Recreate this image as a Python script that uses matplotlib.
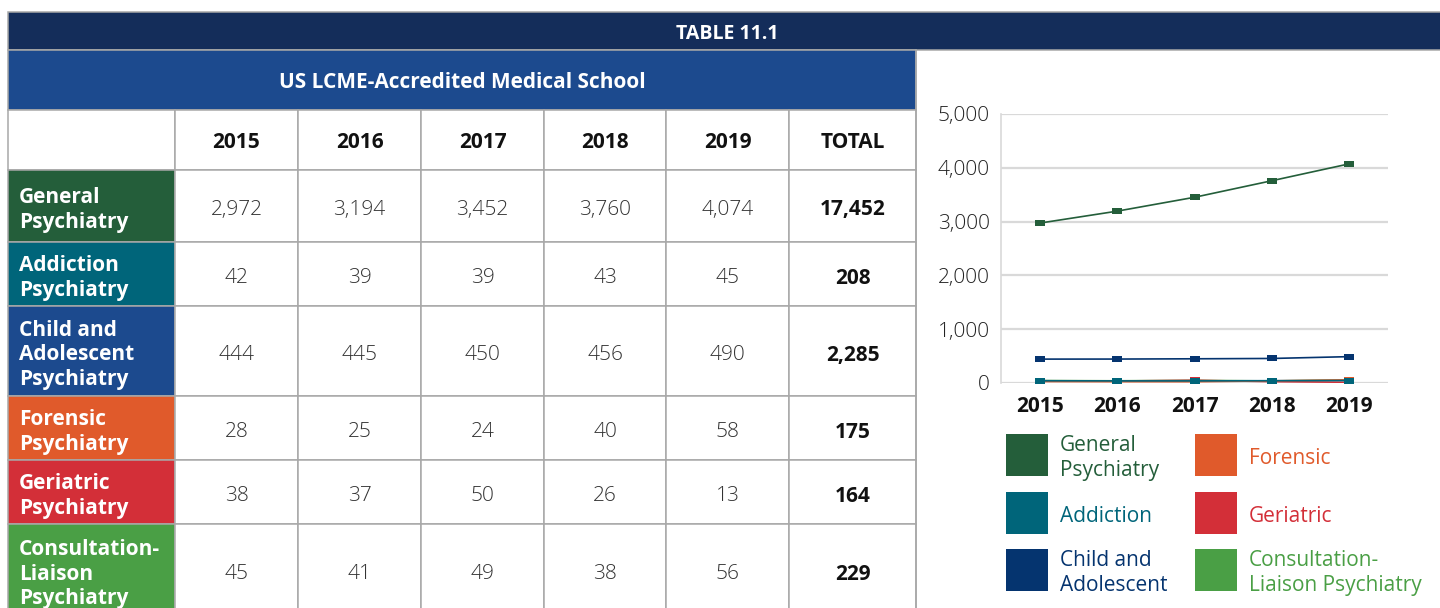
import matplotlib
matplotlib.use("Agg")
import matplotlib.pyplot as plt
from matplotlib.patches import Rectangle
from matplotlib.ticker import FuncFormatter

plt.rcParams["font.family"] = ["Open Sans", "DejaVu Sans"]

# ---------------------------------------------------------------------------
# Data
# ---------------------------------------------------------------------------
years = [2015, 2016, 2017, 2018, 2019]
row_labels = [
    "General\nPsychiatry",
    "Addiction\nPsychiatry",
    "Child and\nAdolescent\nPsychiatry",
    "Forensic\nPsychiatry",
    "Geriatric\nPsychiatry",
    "Consultation-\nLiaison\nPsychiatry",
]
legend_labels = [
    "General\nPsychiatry",
    "Addiction",
    "Child and\nAdolescent",
    "Forensic",
    "Geriatric",
    "Consultation-\nLiaison Psychiatry",
]
general = [2972, 3194, 3452, 3760, 4074]
addiction = [42, 39, 39, 43, 45]
child = [444, 445, 450, 456, 490]
forensic = [28, 25, 24, 40, 58]
geriatric = [38, 37, 50, 26, 13]
consultation = [45, 41, 49, 38, 56]
totals = [17452, 208, 2285, 175, 164, 229]
series = [general, addiction, child, forensic, geriatric, consultation]

# ---------------------------------------------------------------------------
# Styles
# ---------------------------------------------------------------------------
NAVY = "#142d5a"
BLUE = "#1c4a8e"
GRID = "#a8a8a8"
row_colors = ["#245e3a", "#00657a", "#1c4a8e", "#e05a2b", "#d32f38", "#4a9f45"]
line_colors = ["#245e3a", "#00657a", "#05346f", "#e05a2b", "#d32f38", "#4a9f45"]
FS = 15

# table geometry in pixels
col_edges = [8, 175, 298, 421, 544, 666, 789, 916]
row_edges = [110, 170, 242, 306, 396, 460, 524, 616]

fig = plt.figure(figsize=(14.4, 6.08), dpi=100)
ax = fig.add_axes([0, 0, 1, 1])
ax.set_xlim(0, 1440)
ax.set_ylim(608, 0)
ax.axis("off")

# title bar
ax.add_patch(Rectangle((8, 12), 1440, 38, facecolor=NAVY, edgecolor=GRID, lw=1.1))
ax.text(727, 34, "TABLE 11.1", color="white", fontsize=14, fontweight="bold",
        ha="center", va="center")

# sub header
ax.add_patch(Rectangle((8, 50), 908, 60, facecolor=BLUE, edgecolor=GRID, lw=1.1))
ax.text(462, 83, "US LCME-Accredited Medical School", color="white", fontsize=FS,
        fontweight="bold", ha="center", va="center")

# column header row
headers = [str(y) for y in years] + ["TOTAL"]
for j in range(len(col_edges) - 1):
    x0, x1 = col_edges[j], col_edges[j + 1]
    ax.add_patch(Rectangle((x0, row_edges[0]), x1 - x0, row_edges[1] - row_edges[0],
                           facecolor="white", edgecolor=GRID, lw=1.1))
    if j > 0:
        ax.text((x0 + x1) / 2, (row_edges[0] + row_edges[1]) / 2 + 3, headers[j - 1],
                fontsize=FS, fontweight="bold", color="#111111",
                ha="center", va="center")

# body rows
for i, label in enumerate(row_labels):
    y0, y1 = row_edges[i + 1], row_edges[i + 2]
    yc = (y0 + y1) / 2
    ax.add_patch(Rectangle((col_edges[0], y0), col_edges[1] - col_edges[0], y1 - y0,
                           facecolor=row_colors[i], edgecolor=GRID, lw=1.1))
    ax.text(19, yc + 4, label, color="white", fontsize=FS, fontweight="bold",
            ha="left", va="center", linespacing=1.22)
    values = series[i]
    for j in range(1, len(col_edges) - 1):
        x0, x1 = col_edges[j], col_edges[j + 1]
        ax.add_patch(Rectangle((x0, y0), x1 - x0, y1 - y0,
                               facecolor="white", edgecolor=GRID, lw=1.1))
        if j <= len(years):
            ax.text((x0 + x1) / 2, yc + 4, f"{values[j - 1]:,}", fontsize=FS,
                    fontweight=300, color="#333333", ha="center", va="center")
        else:
            ax.text((x0 + x1) / 2, yc + 4, f"{totals[i]:,}", fontsize=FS,
                    fontweight="bold", color="#111111", ha="center", va="center")

# divider to the right of the table
ax.plot([916, 916], [50, 608], color=GRID, lw=1.1)

# legend, drawn by hand in two columns
leg_x = [1006, 1195]
leg_y = [434, 492, 549]
for k, lab in enumerate(legend_labels):
    cx = leg_x[k // 3]
    cy = leg_y[k % 3]
    ax.add_patch(Rectangle((cx, cy), 42, 42, facecolor=line_colors[k], edgecolor="none"))
    ax.text(cx + 54, cy + 24, lab, color=line_colors[k], fontsize=15,
            ha="left", va="center", linespacing=1.22)

# ---------------------------------------------------------------------------
# Line chart
# ---------------------------------------------------------------------------
W, H = 1440, 608
cax = fig.add_axes([1001 / W, (H - 383) / H, 387 / W, 269 / H])
cax.set_facecolor("none")
rect = [(-1, -0.6), (1, -0.6), (1, 0.6), (-1, 0.6), (-1, -0.6)]
draw_order = [5, 4, 3, 1, 2, 0]
for k in draw_order:
    cax.plot(years, series[k], color=line_colors[k], lw=1.2, marker=rect,
             markersize=7.5, markeredgewidth=0, zorder=3)

cax.set_xlim(2014.5, 2019.5)
cax.set_ylim(0, 5000)
cax.set_xticks(years)
cax.set_xticklabels([str(y) for y in years], fontsize=FS, fontweight="bold",
                    color="#111111")
cax.set_yticks([0, 1000, 2000, 3000, 4000, 5000])
cax.yaxis.set_major_formatter(FuncFormatter(lambda v, p: f"{v:,.0f}"))
for t in cax.get_yticklabels():
    t.set_fontsize(FS)
    t.set_fontweight(300)
    t.set_color("#222222")
cax.tick_params(length=0, pad=8)
cax.tick_params(axis="x", pad=9)
cax.grid(axis="y", color="#d9d9d9", lw=1.6)
cax.set_axisbelow(True)
for side in ["top", "right", "bottom"]:
    cax.spines[side].set_visible(False)
cax.spines["left"].set_color("#d9d9d9")
cax.spines["left"].set_linewidth(1.2)

fig.savefig("out.png", dpi=100, facecolor="white")
